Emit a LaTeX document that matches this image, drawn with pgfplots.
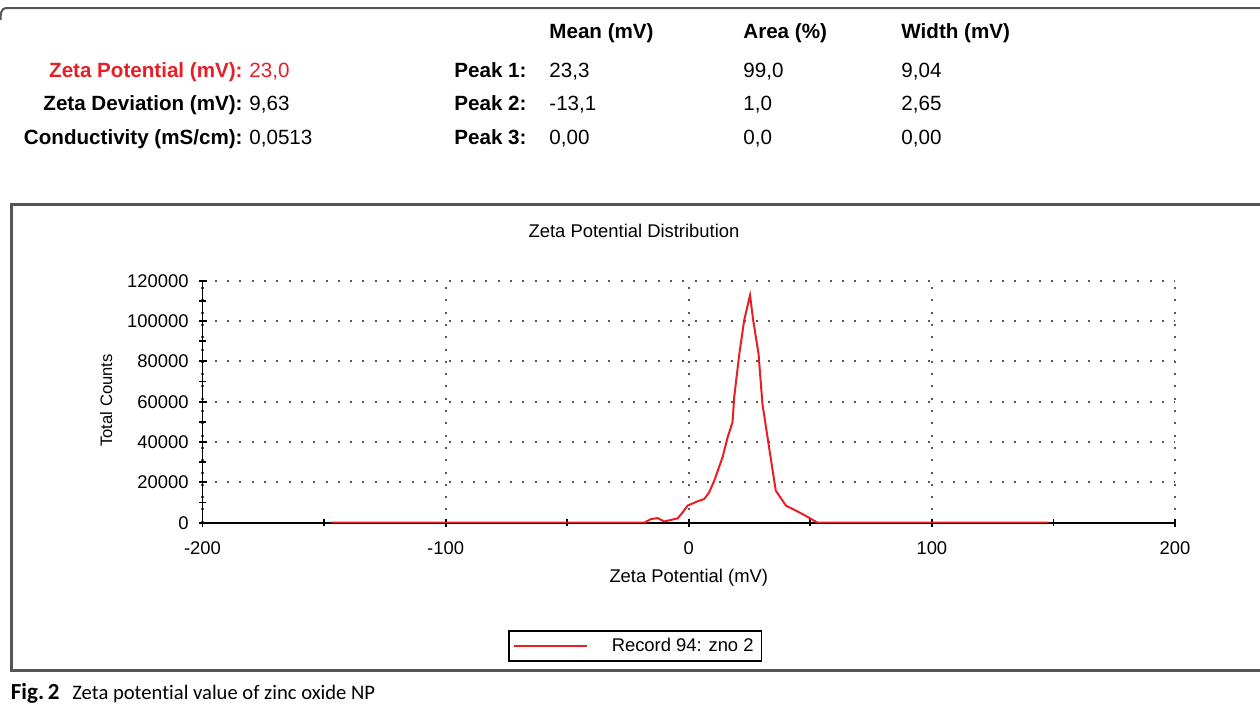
\documentclass[border=0pt]{standalone}
\usepackage{pgfplots}
\pgfplotsset{compat=1.18}
\usepackage{fontspec}
\setmainfont{Liberation Sans}
\newfontfamily\capfont[Ligatures=NoCommon]{Carlito}
\definecolor{zred}{RGB}{232,30,38}
\definecolor{frm}{RGB}{85,85,85}
\newcommand{\hb}{\fontsize{10.3}{12}\selectfont\bfseries}
\newcommand{\hr}{\fontsize{10.3}{12}\selectfont}
\newcommand{\af}{\fontsize{9.2}{11}\selectfont}
\begin{document}
\begin{tikzpicture}
\begin{scope}[x=0.5pt,y=-0.5pt]
\useasboundingbox (0,0) rectangle (1260,712);
\draw[frm, line width=1pt] (0.5,20) to[out=90,in=180] (6,8) -- (1265,8);
\draw[frm, line width=1.3pt] (11.7,204.3) rectangle (1265,670.7);
\begin{scope}[every node/.style={inner sep=0pt}]
% column headers
\node[anchor=base west, font=\hb] at (549,39) {Mean (mV)};
\node[anchor=base west, font=\hb] at (743,39) {Area (\%)};
\node[anchor=base west, font=\hb] at (901,39) {Width (mV)};
% left block
\node[anchor=base east, font=\hb, text=zred] at (243,77) {Zeta Potential (mV):};
\node[anchor=base west, font=\hr, text=zred] at (249,77) {23,0};
\node[anchor=base east, font=\hb] at (243,110) {Zeta Deviation (mV):};
\node[anchor=base west, font=\hr] at (249,110) {9,63};
\node[anchor=base east, font=\hb] at (243,144) {Conductivity (mS/cm):};
\node[anchor=base west, font=\hr] at (249,144) {0,0513};
% peaks
\node[anchor=base west, font=\hb] at (454,77) {Peak 1:};
\node[anchor=base west, font=\hr] at (549,77) {23,3};
\node[anchor=base west, font=\hr] at (743,77) {99,0};
\node[anchor=base west, font=\hr] at (901,77) {9,04};
\node[anchor=base west, font=\hb] at (454,110) {Peak 2:};
\node[anchor=base west, font=\hr] at (549,110) {-13,1};
\node[anchor=base west, font=\hr] at (743,110) {1,0};
\node[anchor=base west, font=\hr] at (901,110) {2,65};
\node[anchor=base west, font=\hb] at (454,144) {Peak 3:};
\node[anchor=base west, font=\hr] at (549,144) {0,00};
\node[anchor=base west, font=\hr] at (743,144) {0,0};
\node[anchor=base west, font=\hr] at (901,144) {0,00};
% chart title
\node[anchor=base, font=\af] at (634,237) {Zeta Potential Distribution};
% caption
\node[anchor=base west, font=\capfont\fontsize{11.5}{13}\selectfont\bfseries] at (10.5,699) {Fig.\,2};
\node[anchor=base west, font=\capfont\fontsize{10.3}{12}\selectfont] at (72,699) {Zeta potential value of zinc oxide NP};
\end{scope}
\end{scope}
\begin{axis}[
  scale only axis,
  width=486.25pt, height=121pt,
  at={(101.25pt,-261.35pt)}, anchor=south west,
  xmin=-200, xmax=200, ymin=0, ymax=120000,
  xtick={-200,-100,0,100,200},
  minor xtick={-150,-50,50,150},
  ytick={0,20000,40000,60000,80000,100000,120000},
  minor ytick={10000,30000,50000,70000,90000,110000},
  scaled y ticks=false, scaled x ticks=false,
  /pgf/number format/assume math mode=true,
  yticklabel style={/pgf/number format/fixed,/pgf/number format/1000 sep={}, anchor=east, inner sep=0pt, xshift=-4.75pt},
  xticklabel style={anchor=base, inner sep=0pt, yshift=-14pt},
  tick label style={font=\af},
  axis x line*=bottom, axis y line*=left,
  axis line style={black, line width=0.9pt},
  tick style={black, line width=0.9pt},
  tick align=center,
  major tick length=4pt, minor tick length=3.4pt,
  grid=major,
  major grid style={dash pattern=on 1pt off 5.15pt, line width=1.1pt, gray!70!black},
  xlabel={Zeta Potential (mV)},
  ylabel={Total Counts},
  every axis x label/.style={at={(axis description cs:0.5,-0.247)}, anchor=base, font=\af, inner sep=0pt},
  every axis y label/.style={at={(axis description cs:-0.099,0.505)}, rotate=90, anchor=center, font=\fontsize{8.3}{10}\selectfont, inner sep=0pt},
  legend style={at={(0.3141,-0.4434)}, anchor=north west, draw=black, line width=0.8pt, fill=white, inner xsep=2pt, inner ysep=1.5pt, font=\af, cells={anchor=west}},
  legend image code/.code={\draw[#1] (0pt,0pt) -- (36.5pt,0pt);},
]
\addplot[zred, line width=1pt] table {
x y
-147 0
-18.3 0
-15.5 1820
-12.8 2300
-10.1 650
-8.7 1000
-4.6 2150
-2.5 5130
-0.5 8450
3.6 10600
6.4 11760
8.4 15070
10.5 20870
13.9 32460
16.0 42400
18.0 49840
18.7 62270
20.8 83800
22.8 100400
25.2 112800
26.5 100400
28.7 83800
30.3 58970
32.4 42400
34.5 25840
35.8 15900
40.0 8450
46.8 4300
53.0 0
148 0
};
\addlegendentry{\hspace*{10pt}Record 94: zno 2}
\end{axis}
\end{tikzpicture}
\end{document}
